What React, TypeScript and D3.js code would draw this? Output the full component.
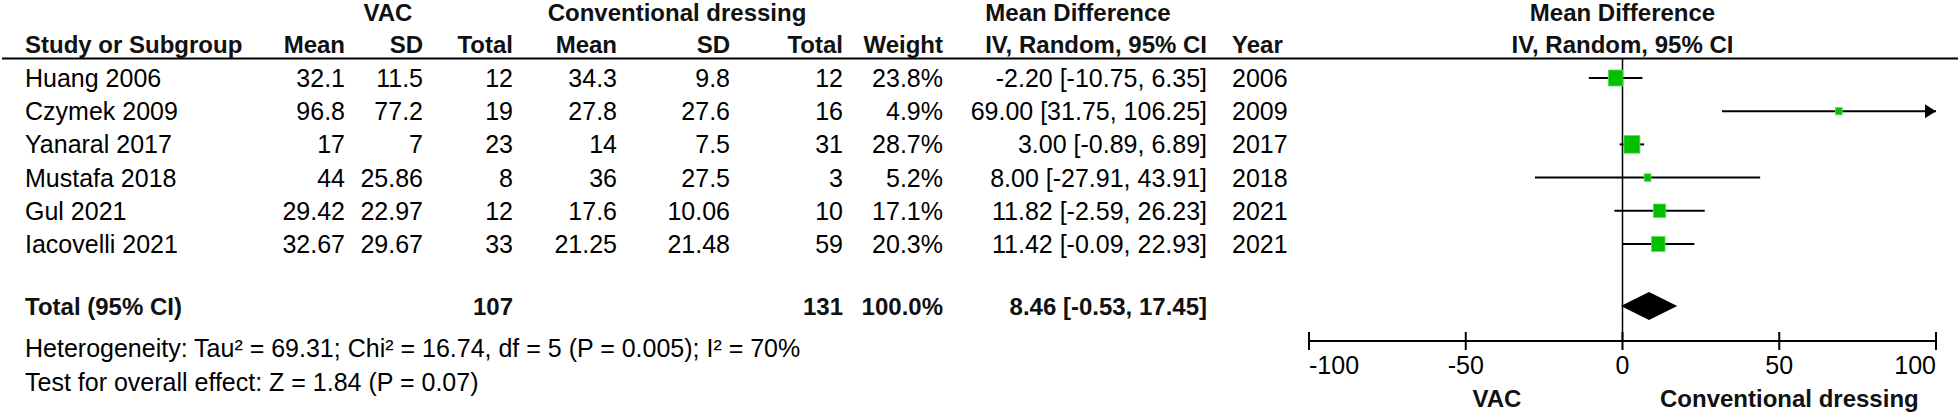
import React from "react";
import * as d3 from "d3";

const studies = ["Huang 2006", "Czymek 2009", "Yanaral 2017", "Mustafa 2018", "Gul 2021", "Iacovelli 2021"];
const vacMean = [32.1, 96.8, 17, 44, 29.42, 32.67];
const vacSD = [11.5, 77.2, 7, 25.86, 22.97, 29.67];
const vacTotal = [12, 19, 23, 8, 12, 33];
const convMean = [34.3, 27.8, 14, 36, 17.6, 21.25];
const convSD = [9.8, 27.6, 7.5, 27.5, 10.06, 21.48];
const convTotal = [12, 16, 31, 3, 10, 59];
const weights = [23.8, 4.9, 28.7, 5.2, 17.1, 20.3];
const md = [-2.2, 69.0, 3.0, 8.0, 11.82, 11.42];
const ciLow = [-10.75, 31.75, -0.89, -27.91, -2.59, -0.09];
const ciHigh = [6.35, 106.25, 6.89, 43.91, 26.23, 22.93];
const years = [2006, 2009, 2017, 2018, 2021, 2021];

const totalVac = 107;
const totalConv = 131;
const totalWeight = 100.0;
const pooled = [8.46, -0.53, 17.45]; // estimate, low, high
const heterogeneity = "Heterogeneity: Tau² = 69.31; Chi² = 16.74, df = 5 (P = 0.005); I² = 70%";
const overallTest = "Test for overall effect: Z = 1.84 (P = 0.07)";
const axisTicks = [-100, -50, 0, 50, 100];
const axisDomain = [-100, 100];

const FONT = "'Liberation Sans', Arial, sans-serif";

const fmtCI = (m: number, l: number, h: number) =>
  `${m.toFixed(2)} [${l.toFixed(2)}, ${h.toFixed(2)}]`;

export default function App() {
  const W = 1960;
  const H = 414;
  const x = d3.scaleLinear().domain(axisDomain).range([1309, 1936]);
  const y = d3
    .scaleLinear()
    .domain([0, studies.length - 1])
    .range([78, 244]);
  const totalY = 306;
  const axisY = 341;
  const headerLineY = 58.5;
  const size = d3.scaleSqrt().domain([0, 28.7]).range([0, 16]);

  const cols = {
    mean1: 345,
    sd1: 423,
    tot1: 513,
    mean2: 617,
    sd2: 730,
    tot2: 843,
    weight: 943,
    ci: 1207,
    year: 1232,
  };

  const fs = 25;
  const bfs = 24;
  const base = (cy: number) => cy + 9;

  const diamond = d3.line()([
    [x(pooled[1]), totalY],
    [x(pooled[0]), totalY - 14],
    [x(pooled[2]), totalY],
    [x(pooled[0]), totalY + 14],
  ]) + "Z";

  const tickAnchor = (t: number) =>
    t === axisDomain[0] ? "start" : t === axisDomain[1] ? "end" : "middle";

  return (
    <svg
      width={W}
      height={H}
      style={{ position: "absolute", left: 0, top: 0, background: "#fff" }}
      fontFamily={FONT}
    >
      <rect x={0} y={0} width={W} height={H} fill="#fff" />
      {/* Header row 1 */}
      <g fontWeight="bold" fontSize={bfs} fill="#111" textAnchor="middle">
        <text x={388} y={21}>VAC</text>
        <text x={677} y={21}>Conventional dressing</text>
        <text x={1078} y={21}>Mean Difference</text>
        <text x={x(0)} y={21}>Mean Difference</text>
      </g>
      {/* Header row 2 */}
      <g fontWeight="bold" fontSize={bfs} fill="#111">
        <text x={25} y={53}>Study or Subgroup</text>
        <text x={cols.mean1} y={53} textAnchor="end">Mean</text>
        <text x={cols.sd1} y={53} textAnchor="end">SD</text>
        <text x={cols.tot1} y={53} textAnchor="end">Total</text>
        <text x={cols.mean2} y={53} textAnchor="end">Mean</text>
        <text x={cols.sd2} y={53} textAnchor="end">SD</text>
        <text x={cols.tot2} y={53} textAnchor="end">Total</text>
        <text x={cols.weight} y={53} textAnchor="end">Weight</text>
        <text x={cols.ci} y={53} textAnchor="end">IV, Random, 95% CI</text>
        <text x={cols.year} y={53}>Year</text>
        <text x={x(0)} y={53} textAnchor="middle">IV, Random, 95% CI</text>
      </g>
      <line x1={2} x2={1958} y1={headerLineY} y2={headerLineY} stroke="#000" strokeWidth={2} />

      {/* Study rows */}
      <g fontSize={fs} fill="#000">
        {studies.map((s, i) => {
          const by = base(y(i));
          return (
            <g key={s}>
              <text x={25} y={by}>{s}</text>
              <text x={cols.mean1} y={by} textAnchor="end">{String(vacMean[i])}</text>
              <text x={cols.sd1} y={by} textAnchor="end">{String(vacSD[i])}</text>
              <text x={cols.tot1} y={by} textAnchor="end">{String(vacTotal[i])}</text>
              <text x={cols.mean2} y={by} textAnchor="end">{String(convMean[i])}</text>
              <text x={cols.sd2} y={by} textAnchor="end">{String(convSD[i])}</text>
              <text x={cols.tot2} y={by} textAnchor="end">{String(convTotal[i])}</text>
              <text x={cols.weight} y={by} textAnchor="end">{weights[i].toFixed(1)}%</text>
              <text x={cols.ci} y={by} textAnchor="end">{fmtCI(md[i], ciLow[i], ciHigh[i])}</text>
              <text x={cols.year} y={by}>{String(years[i])}</text>
            </g>
          );
        })}
      </g>

      {/* Total row */}
      <g fontWeight="bold" fontSize={bfs} fill="#111">
        <text x={25} y={base(totalY)}>Total (95% CI)</text>
        <text x={cols.tot1} y={base(totalY)} textAnchor="end">{String(totalVac)}</text>
        <text x={cols.tot2} y={base(totalY)} textAnchor="end">{String(totalConv)}</text>
        <text x={cols.weight} y={base(totalY)} textAnchor="end">{totalWeight.toFixed(1)}%</text>
        <text x={cols.ci} y={base(totalY)} textAnchor="end">{fmtCI(pooled[0], pooled[1], pooled[2])}</text>
      </g>
      <g fontSize={fs} fill="#000">
        <text x={25} y={base(348)}>{heterogeneity}</text>
        <text x={25} y={base(382)}>{overallTest}</text>
      </g>

      {/* Zero line */}
      <line x1={x(0)} x2={x(0)} y1={headerLineY} y2={axisY} stroke="#000" strokeWidth={1.5} />

      {/* CI lines and squares */}
      {studies.map((s, i) => {
        const cy = y(i);
        const lo = Math.max(ciLow[i], axisDomain[0]);
        const hi = Math.min(ciHigh[i], axisDomain[1]);
        const sz = size(weights[i]);
        const arrowRight = ciHigh[i] > axisDomain[1];
        const arrowLeft = ciLow[i] < axisDomain[0];
        return (
          <g key={"m" + s}>
            <line x1={x(lo)} x2={x(hi)} y1={cy} y2={cy} stroke="#000" strokeWidth={2} />
            {arrowRight && (
              <path
                d={`M${x(hi)},${cy} L${x(hi) - 11},${cy - 7} L${x(hi) - 11},${cy + 7} Z`}
                fill="#000"
              />
            )}
            {arrowLeft && (
              <path
                d={`M${x(lo)},${cy} L${x(lo) + 11},${cy - 7} L${x(lo) + 11},${cy + 7} Z`}
                fill="#000"
              />
            )}
            <rect
              x={x(md[i]) - sz / 2}
              y={cy - (sz * 1.1) / 2}
              width={sz}
              height={sz * 1.1}
              fill="#00c000"
              stroke="#5ee05e"
              strokeWidth={0.8}
            />
          </g>
        );
      })}

      {/* Diamond */}
      <path d={diamond} fill="#000" />

      {/* Axis */}
      <line x1={x(axisDomain[0])} x2={x(axisDomain[1])} y1={axisY} y2={axisY} stroke="#000" strokeWidth={2} />
      {axisTicks.map((t) => (
        <g key={t}>
          <line x1={x(t)} x2={x(t)} y1={axisY - 9} y2={axisY + 9} stroke="#000" strokeWidth={2} />
          <text x={x(t)} y={374} textAnchor={tickAnchor(t)} fontSize={fs} fill="#000">
            {String(t)}
          </text>
        </g>
      ))}
      <g fontWeight="bold" fontSize={bfs} fill="#111">
        <text x={1497} y={407} textAnchor="middle">VAC</text>
        <text x={1660} y={407}>Conventional dressing</text>
      </g>
    </svg>
  );
}
